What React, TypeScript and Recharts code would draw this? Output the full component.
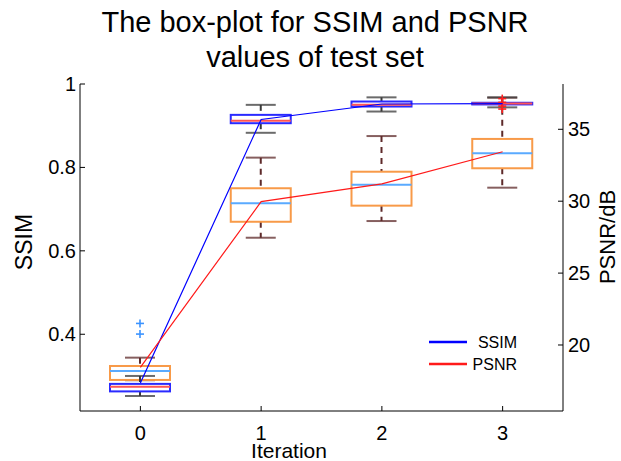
import {
  ComposedChart,
  Bar,
  Line,
  XAxis,
  YAxis,
  Legend,
} from 'recharts';

// values
const iterations = ['0', '1', '2', '3'];

const ssimMin = [0.252, 0.883, 0.934, 0.944];
const ssimQ1 = [0.263, 0.906, 0.946, 0.951];
const ssimMedian = [0.274, 0.912, 0.95, 0.953];
const ssimQ3 = [0.281, 0.926, 0.958, 0.955];
const ssimMax = [0.3, 0.95, 0.968, 0.968];
const ssimMean = [0.283, 0.915, 0.952, 0.953];
const ssimOutliers = [[], [], [], [0.965, 0.956, 0.947, 0.94]];

const psnrMin = [17.55, 27.46, 28.62, 30.94];
const psnrQ1 = [17.57, 28.57, 29.69, 32.29];
const psnrMedian = [18.19, 29.85, 31.15, 33.33];
const psnrQ3 = [18.54, 30.9, 32.05, 34.33];
const psnrMax = [19.12, 33.03, 34.53, 37.2];
const psnrMean = [18.45, 29.97, 31.2, 33.44];
const psnrOutliers = [[21.5, 20.76], [], [], []];

const ssimTicks = [0.4, 0.6, 0.8, 1];
const psnrTicks = [20, 25, 30, 35];
const legendOrder = ['SSIM', 'PSNR'];

const FONT = '"Liberation Sans", Arial, sans-serif';
const TICK_FONT = 20;

const data = iterations.map((iter, i) => ({
  iter,
  ssimBox: [ssimQ1[i], ssimQ3[i]],
  psnrBox: [psnrQ1[i], psnrQ3[i]],
  ssimMean: ssimMean[i],
  psnrMean: psnrMean[i],
  ssimStats: {
    min: ssimMin[i], q1: ssimQ1[i], med: ssimMedian[i], q3: ssimQ3[i], max: ssimMax[i], out: ssimOutliers[i],
  },
  psnrStats: {
    min: psnrMin[i], q1: psnrQ1[i], med: psnrMedian[i], q3: psnrQ3[i], max: psnrMax[i], out: psnrOutliers[i],
  },
}));

interface BoxStyle {
  key: 'ssimStats' | 'psnrStats';
  box: string;
  median: string;
  whisker: string;
  outlier: string;
}

const ssimStyle: BoxStyle = {
  key: 'ssimStats', box: '#2a2aff', median: '#ff5555', whisker: '#3a3a3a', outlier: '#ff2020',
};
const psnrStyle: BoxStyle = {
  key: 'psnrStats', box: '#f89a48', median: '#5aaaff', whisker: '#5e2a2a', outlier: '#3b93ff',
};

// draws whiskers, box, median and outliers; the bar itself spans q1..q3
function makeBoxShape(st: BoxStyle) {
  return (props: any) => {
    const { x, y, width, height, payload } = props;
    const s = payload[st.key];
    const top = Math.min(y, y + height);
    const h = Math.abs(height);
    const ppu = h / (s.q3 - s.q1);
    const py = (v: number) => top + (s.q3 - v) * ppu;
    const cx = x + width / 2;
    const cap = width / 4;
    return (
      <g>
        <line x1={cx} x2={cx} y1={py(s.max)} y2={py(s.q3)} stroke={st.whisker} strokeWidth={2} strokeDasharray="6 5" />
        <line x1={cx} x2={cx} y1={py(s.q1)} y2={py(s.min)} stroke={st.whisker} strokeWidth={2} strokeDasharray="6 5" />
        <line x1={cx - cap} x2={cx + cap} y1={py(s.max)} y2={py(s.max)} stroke={st.whisker} strokeWidth={2} strokeOpacity={0.75} />
        <line x1={cx - cap} x2={cx + cap} y1={py(s.min)} y2={py(s.min)} stroke={st.whisker} strokeWidth={2} strokeOpacity={0.75} />
        <rect x={x} y={top} width={width} height={h} fill="none" stroke={st.box} strokeWidth={2} />
        <line x1={x} x2={x + width} y1={py(s.med)} y2={py(s.med)} stroke={st.median} strokeWidth={2} />
        {s.out.map((v: number, k: number) => (
          <g key={k} stroke={st.outlier} strokeWidth={1.6}>
            <line x1={cx - 4} x2={cx + 4} y1={py(v)} y2={py(v)} />
            <line x1={cx} x2={cx} y1={py(v) - 4} y2={py(v) + 4} />
          </g>
        ))}
      </g>
    );
  };
}

function BottomTick(props: any) {
  const { x, y, payload } = props;
  return (
    <g>
      <line x1={x} x2={x} y1={y} y2={y - 5} stroke="#000" />
      <text x={x} y={y + 29} textAnchor="middle" fontSize={TICK_FONT} fontFamily={FONT} fill="#000">
        {payload.value}
      </text>
    </g>
  );
}

function TopTick(props: any) {
  const { x, y } = props;
  return <line x1={x} x2={x} y1={y} y2={y + 5} stroke="#000" />;
}

function LeftTick(props: any) {
  const { x, y, payload } = props;
  return (
    <g>
      <line x1={x} x2={x + 5} y1={y} y2={y} stroke="#000" />
      <text x={x - 4} y={y + 7} textAnchor="end" fontSize={TICK_FONT} fontFamily={FONT} fill="#000">
        {payload.value}
      </text>
    </g>
  );
}

function RightTick(props: any) {
  const { x, y, payload } = props;
  return (
    <g>
      <line x1={x} x2={x - 5} y1={y} y2={y} stroke="#000" />
      <text x={x + 5} y={y + 7} textAnchor="start" fontSize={TICK_FONT} fontFamily={FONT} fill="#000">
        {payload.value}
      </text>
    </g>
  );
}

function LegendBox(props: any) {
  const items = (props.payload || [])
    .filter((p: any) => p.type !== 'none')
    .sort((a: any, b: any) => legendOrder.indexOf(a.value) - legendOrder.indexOf(b.value));
  return (
    <svg width={92} height={46}>
      {items.map((p: any, i: number) => (
        <g key={p.value}>
          <line x1={0} x2={38} y1={10 + i * 22} y2={10 + i * 22} stroke={p.color} strokeWidth={2.5} />
          <text x={88} y={16 + i * 22} textAnchor="end" fontSize={16} fontFamily={FONT} fill="#000">
            {p.value}
          </text>
        </g>
      ))}
    </svg>
  );
}

export default function App() {
  return (
    <div style={{ position: 'absolute', left: 0, top: 0, width: 621, height: 461, background: '#fff', fontFamily: FONT }}>
      <div
        style={{
          position: 'absolute', left: 0, top: 5, width: 630, textAlign: 'center',
          fontSize: 29, lineHeight: '35px', color: '#000',
        }}
      >
        The box-plot for SSIM and PSNR
        <br />
        values of test set
      </div>
      <ComposedChart
        width={621}
        height={461}
        data={data}
        margin={{ top: 84, right: 0, bottom: 0, left: 0 }}
        barGap={-60}
      >
        <XAxis
          dataKey="iter"
          type="category"
          height={50}
          tickSize={0}
          tickMargin={0}
          tickLine={false}
          tick={BottomTick}
          axisLine={{ stroke: '#000' }}
          label={{
            content: (p: any) => (
              <text x={289} y={p.viewBox.y + 47} textAnchor="middle" fontSize={21} fontFamily={FONT} fill="#000">
                Iteration
              </text>
            ),
          }}
        />
        <XAxis
          xAxisId="top"
          orientation="top"
          type="number"
          domain={[-0.5, 3.5]}
          ticks={[0, 1, 2, 3]}
          height={0}
          tickSize={0}
          tickMargin={0}
          tickLine={false}
          tick={TopTick}
          axisLine={{ stroke: '#000' }}
        />
        <YAxis
          yAxisId="ssim"
          orientation="left"
          width={80}
          domain={[0.216, 1]}
          ticks={ssimTicks}
          allowDataOverflow
          tickSize={0}
          tickMargin={0}
          tickLine={false}
          tick={LeftTick}
          axisLine={{ stroke: '#000' }}
          label={{
            content: () => (
              <text
                x={32}
                y={242}
                transform="rotate(-90 32 242)"
                textAnchor="middle"
                fontSize={23}
                fontFamily={FONT}
                fill="#000"
              >
                SSIM
              </text>
            ),
          }}
        />
        <YAxis
          yAxisId="psnr"
          orientation="right"
          width={58}
          domain={[15.41, 38.15]}
          ticks={psnrTicks}
          allowDataOverflow
          tickSize={0}
          tickMargin={0}
          tickLine={false}
          tick={RightTick}
          axisLine={{ stroke: '#000' }}
          label={{
            content: () => (
              <text
                x={615}
                y={237}
                transform="rotate(-90 615 237)"
                textAnchor="middle"
                fontSize={22}
                fontFamily={FONT}
                fill="#000"
              >
                PSNR/dB
              </text>
            ),
          }}
        />
        <Legend
          layout="vertical"
          align="center"
          verticalAlign="middle"
          content={LegendBox}
          wrapperStyle={{ position: 'absolute', left: 429, top: 332, width: 92, height: 46 }}
        />
        <Bar
          yAxisId="psnr"
          dataKey="psnrBox"
          barSize={60}
          legendType="none"
          shape={makeBoxShape(psnrStyle)}
          isAnimationActive={false}
        />
        <Bar
          yAxisId="ssim"
          dataKey="ssimBox"
          barSize={60}
          legendType="none"
          shape={makeBoxShape(ssimStyle)}
          isAnimationActive={false}
        />
        <Line
          yAxisId="ssim"
          dataKey="ssimMean"
          name="SSIM"
          stroke="#0000ff"
          strokeWidth={1.2}
          dot={false}
          activeDot={false}
          isAnimationActive={false}
        />
        <Line
          yAxisId="psnr"
          dataKey="psnrMean"
          name="PSNR"
          stroke="#ff1a1a"
          strokeWidth={1.2}
          dot={false}
          activeDot={false}
          isAnimationActive={false}
        />
      </ComposedChart>
    </div>
  );
}
